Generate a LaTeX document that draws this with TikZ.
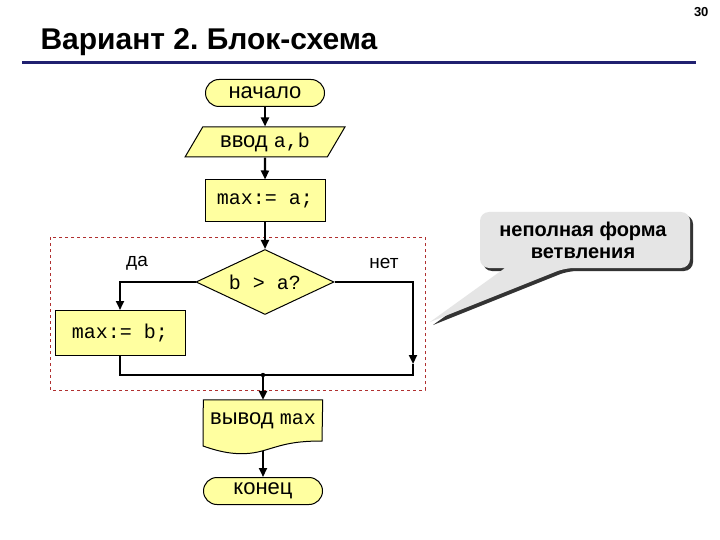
\documentclass[tikz,border=0pt]{standalone}
\usepackage{fontspec}
\setmainfont{Liberation Sans}
\newfontfamily\cour{Liberation Mono}
\frenchspacing
\usetikzlibrary{shapes.geometric,arrows.meta}
\definecolor{blockfill}{HTML}{FFFFA0}
\definecolor{navyline}{HTML}{202070}
\definecolor{dashred}{HTML}{B03030}
\newcommand{\mono}{\cour\fontsize{20}{22}\selectfont}
\tikzset{
  fs/.style={font=\fontsize{22}{24}\selectfont},
  blk/.style={draw=black, line width=1pt, fill=blockfill, fs, inner sep=0pt},
  term/.style={blk, rounded corners=13.5, minimum width=119, minimum height=27},
  proc/.style={blk, rectangle, minimum width=120, minimum height=42},
  conn/.style={line width=2.2pt, -{Triangle[length=9pt,width=8pt]}},
  plain/.style={line width=2.2pt},
  lbl/.style={font=\fontsize{19}{21}\selectfont}
}
\begin{document}
\begin{tikzpicture}[x=1pt,y=-1pt]
\useasboundingbox[fill=white] (0,0) rectangle (720,540);
% header
\node[anchor=east, font=\bfseries\fontsize{13}{15}\selectfont] (pg) at (712,12) {30};
\node[anchor=base west, font=\bfseries\fontsize{30}{34}\selectfont] (title) at (37,50) {Вариант 2. Блок-схема};
\coordinate (rl) at (22,63);
\coordinate (rr) at (696,63);
\draw[navyline, line width=3pt] (rl) -- (rr);
% dashed frame
\draw[dashred, dashed, line width=0.7pt] (50,237) rectangle (425,390);
% nodes
\node[term] (start) at (265,93) {начало};
\node[blk, trapezium, trapezium left angle=56, trapezium right angle=124, minimum width=160, minimum height=30, trapezium stretches=true] (inp) at (265,142) {ввод {\mono a,b}};
\node[proc, font=\mono] (asa) at (265,201) {max:= a;};
\node[blk, diamond, aspect=2.1, minimum width=138, minimum height=65, font=\mono] (cond) at (265,282) {b > a?};
\node[proc, minimum width=130, minimum height=45, font=\mono] (asb) at (120,333) {max:= b;};
\node[fs, minimum width=119, minimum height=44, inner sep=0pt] (out) at (263,422) {};
\node[term] (fin) at (263,491) {конец};
% output document shape
\fill[blockfill] (out.north west) -- (out.north east) -- (322,441) .. controls (290,441) and (280,446) .. (262,451) .. controls (240,457) and (220,452) .. (203,446) -- cycle;
\draw[line width=1pt] (out.north west) -- (out.north east) -- (322,441) .. controls (290,441) and (280,446) .. (262,451) .. controls (240,457) and (220,452) .. (203,446) -- cycle;
\node[fs, inner sep=0pt] (outtext) at (263,421) {вывод {\mono max}};
% labels
\node[lbl] (yes) at (137,263) {да};
\node[lbl] (no) at (384,263) {нет};
% connectors
\draw[conn] (start) -- (inp);
\draw[conn] (inp) -- (asa);
\draw[conn] (asa) -- (cond);
\coordinate (lk) at (asb.north |- cond.west);
\draw[conn] (cond.west) -- (lk) -- (asb.north);
\coordinate (rk) at (413,282);
\coordinate (rm) at (413,364);
\coordinate (rb) at (413,375);
\coordinate (lb) at (asb.south |- rb);
\coordinate (jn) at (263,375);
\coordinate (ob) at (263,451);
\draw[conn] (cond.east) -- (rk) -- (rm);
\draw[plain] (rm) -- (rb) -- (lb) -- (asb.south);
\fill (jn) circle (2.2pt);
\draw[conn] (jn) -- (out.north);
\draw[conn] (ob) -- (fin);
% callout
\begin{scope}[shift={(3,3)}]
\fill[black!80] (480,240) [rounded corners=9] -- (480,212) -- (690,212) -- (690,268) -- (565,268) [sharp corners] -- (430,322) -- (505,268) [rounded corners=9] -- (480,268) -- cycle;
\end{scope}
\fill[black!10] (480,240) [rounded corners=9] -- (480,212) -- (690,212) -- (690,268) -- (565,268) [sharp corners] -- (430,322) -- (505,268) [rounded corners=9] -- (480,268) -- cycle;
\node[font=\bfseries\fontsize{20}{22}\selectfont, align=center] (note) at (583,240) {неполная форма\\ветвления};
\end{tikzpicture}
\end{document}
